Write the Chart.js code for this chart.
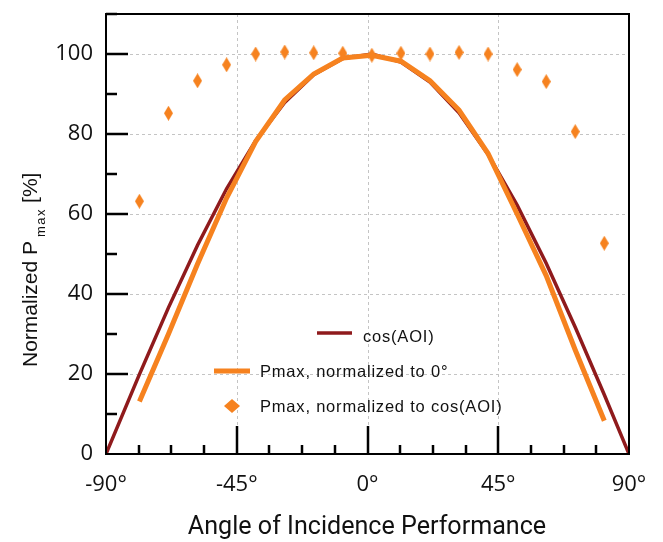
<!DOCTYPE html>
<html>
<head>
<meta charset="utf-8">
<script src="https://cdn.jsdelivr.net/npm/chart.js@4/dist/chart.umd.min.js"></script>
<style>
  html, body { margin: 0; padding: 0; background: #fff; }
  #wrap { width: 663px; height: 542px; }
</style>
</head>
<body>
<div id="wrap"><canvas id="aoiChart" width="663" height="542"></canvas></div>
<script>
// - - - - - - - - - - dados - - - - - - - - - -
const angulos = [-78.5, -68.5, -58.5, -48.5, -38.5, -28.5, -18.5, -8.5, 1.5, 11.5, 21.5, 31.5, 41.5, 51.5, 61.5, 71.5, 81.5];
const pmax_cos = [63.2, 85.2, 93.3, 97.3, 100, 100.5, 100.3, 100.2, 99.7, 100.2, 100, 100.4, 100, 96.1, 93.1, 80.6, 52.7];
const pmax_zero = [13.1, 30, 47.5, 64, 78.1, 88.5, 95, 99, 99.7, 98.2, 93.3, 86, 75.1, 60, 44.6, 26, 8.3];
const cos_angulos = [-90, -78.5, -68.5, -58.5, -48.5, -38.5, -28.5, -18.5, -8.5, 1.5, 11.5, 21.5, 31.5, 41.5, 51.5, 61.5, 71.5, 81.5, 90];
const cos_valores = [0, 19.9, 36.6, 52.2, 66.3, 78.3, 87.9, 94.8, 98.9, 100, 98, 93, 85.3, 74.9, 62.2, 47.7, 31.7, 14.8, 0];
const x_ticks = [-90, -45, 0, 45, 90];
const y_ticks = [0, 20, 40, 60, 80, 100];
const legenda = ['cos(AOI)', 'Pmax, normalized to 0°', 'Pmax, normalized to cos(AOI)'];
const titulo_x = 'Angle of Incidence Performance';

const LARANJA = '#f6821f';
const VERMELHO = '#8f1a1c';
const TEXTO = '#111';

// losango alongado para os pontos
const losango = document.createElement('canvas');
losango.width = 9; losango.height = 15;
(function() {
    const c = losango.getContext('2d');
    c.fillStyle = LARANJA;
    c.beginPath();
    c.moveTo(4.5, 0); c.lineTo(9, 7.5); c.lineTo(4.5, 15); c.lineTo(0, 7.5);
    c.closePath(); c.fill();
})();

const par = (xs, ys) => xs.map((x, i) => ({x: x, y: ys[i]}));

// grade tracejada (antes dos dados)
const grade = {
    id: 'grade',
    beforeDatasetsDraw(chart) {
        const ctx = chart.ctx;
        const a = chart.chartArea;
        const sx = chart.scales.x, sy = chart.scales.y;
        ctx.save();
        ctx.strokeStyle = '#c4c4c4';
        ctx.lineWidth = 1;
        ctx.setLineDash([3, 3]);
        ctx.beginPath();
        y_ticks.filter(v => v > 0).forEach(v => {
            const py = Math.round(sy.getPixelForValue(v)) + 0.5;
            ctx.moveTo(a.left, py); ctx.lineTo(a.right, py);
        });
        x_ticks.filter(v => Math.abs(v) < 90).forEach(v => {
            const px = Math.round(sx.getPixelForValue(v)) + 0.5;
            ctx.moveTo(px, a.top); ctx.lineTo(px, a.bottom);
        });
        ctx.stroke();
        ctx.restore();
    }
};

// moldura, ticks internos, titulos e legenda
const extras = {
    id: 'extras',
    afterDraw(chart) {
        const ctx = chart.ctx;
        const a = chart.chartArea;
        const sx = chart.scales.x, sy = chart.scales.y;
        ctx.save();
        ctx.strokeStyle = '#000';
        ctx.lineWidth = 2.5;
        ctx.beginPath();
        for (let v = 10; v <= 110; v += 10) {
            const py = Math.round(sy.getPixelForValue(v));
            const len = (v % 20 === 0) ? 22 : 11;
            ctx.moveTo(a.left, py); ctx.lineTo(a.left + len, py);
        }
        for (let v = -78.75; v < 90; v += 11.25) {
            const px = Math.round(sx.getPixelForValue(v));
            const len = (Math.abs(v % 45) < 0.01) ? 28 : 9;
            ctx.moveTo(px, a.bottom); ctx.lineTo(px, a.bottom - len);
        }
        ctx.stroke();
        ctx.lineWidth = 2;
        ctx.strokeRect(a.left, a.top, a.right - a.left, a.bottom - a.top);
        ctx.restore();

        // titulo eixo X
        ctx.save();
        ctx.fillStyle = TEXTO;
        ctx.textAlign = 'center';
        ctx.textBaseline = 'middle';
        ctx.font = '24px Roboto';
        let tam = 24 * 359 / ctx.measureText(titulo_x).width;
        ctx.font = tam.toFixed(1) + 'px Roboto';
        ctx.fillText(titulo_x, 367, 528);
        ctx.restore();

        // titulo eixo Y (com subscrito)
        ctx.save();
        ctx.fillStyle = TEXTO;
        ctx.translate(37, 367);
        ctx.rotate(-Math.PI / 2);
        ctx.textAlign = 'left';
        ctx.textBaseline = 'alphabetic';
        const f1 = '21px "Liberation Sans"', f2 = '13px "Liberation Sans"';
        ctx.font = f1;
        ctx.fillText('Normalized P', 0, 0);
        const w1 = ctx.measureText('Normalized P').width;
        ctx.font = f2;
        ctx.letterSpacing = '1.5px';
        ctx.fillText('max', w1 + 4, 8);
        const w2 = ctx.measureText('max').width;
        ctx.letterSpacing = '0px';
        ctx.font = f1;
        ctx.fillText('[%]', w1 + 4 + w2 + 5, 0);
        ctx.restore();

        // legenda
        ctx.save();
        ctx.font = '16.5px "Liberation Sans"';
        ctx.letterSpacing = '0.8px';
        ctx.fillStyle = TEXTO;
        ctx.textBaseline = 'middle';
        ctx.lineWidth = 3.5;
        ctx.strokeStyle = VERMELHO;
        ctx.beginPath(); ctx.moveTo(317, 333); ctx.lineTo(352, 333); ctx.stroke();
        ctx.fillText(legenda[0], 363, 337);
        ctx.lineWidth = 5;
        ctx.strokeStyle = LARANJA;
        ctx.beginPath(); ctx.moveTo(214, 371); ctx.lineTo(250, 371); ctx.stroke();
        ctx.fillText(legenda[1], 260, 372);
        ctx.fillStyle = LARANJA;
        ctx.beginPath();
        ctx.moveTo(232, 399); ctx.lineTo(240, 406); ctx.lineTo(232, 413); ctx.lineTo(224, 406);
        ctx.closePath(); ctx.fill();
        ctx.fillStyle = TEXTO;
        ctx.fillText(legenda[2], 260, 407);
        ctx.restore();
    }
};

const ctx_aoi = document.getElementById('aoiChart').getContext('2d');

const dados_aoi = {
    datasets: [
        {
            label: legenda[2],
            data: par(angulos, pmax_cos),
            showLine: false,
            pointStyle: losango,
            pointRadius: 7,
            order: 1
        },
        {
            label: legenda[1],
            data: par(angulos, pmax_zero),
            borderColor: LARANJA,
            borderWidth: 5,
            pointRadius: 0,
            order: 2
        },
        {
            label: legenda[0],
            data: par(cos_angulos, cos_valores),
            borderColor: VERMELHO,
            borderWidth: 3.5,
            pointRadius: 0,
            order: 3
        }
    ]
};

const conf_aoi = {
    responsive: false,
    animation: false,
    layout: { padding: { top: 14, right: 34, left: 0, bottom: 0 } },
    scales: {
        x: {
            type: 'linear',
            min: -90, max: 90,
            afterBuildTicks: s => { s.ticks = x_ticks.map(v => ({value: v})); },
            afterFit: s => { s.height = 88; s.paddingLeft = 0; s.paddingRight = 0; },
            ticks: {
                padding: 18,
                color: TEXTO,
                font: { family: 'Open Sans', size: 22 },
                callback: v => v + '°'
            },
            grid: { display: false, drawTicks: false },
            border: { display: false }
        },
        y: {
            min: 0, max: 110,
            afterBuildTicks: s => { s.ticks = y_ticks.map(v => ({value: v})); },
            afterFit: s => { s.width = 106; s.paddingTop = 0; s.paddingBottom = 0; },
            ticks: {
                padding: 13,
                color: TEXTO,
                font: { family: 'Open Sans', size: 22 }
            },
            grid: { display: false, drawTicks: false },
            border: { display: false }
        }
    },
    plugins: {
        legend: { display: false },
        tooltip: { enabled: false }
    }
};

const grafico_aoi = new Chart(ctx_aoi, {
    type: 'line',
    data: dados_aoi,
    options: conf_aoi,
    plugins: [grade, extras]
});
</script>
</body>
</html>
